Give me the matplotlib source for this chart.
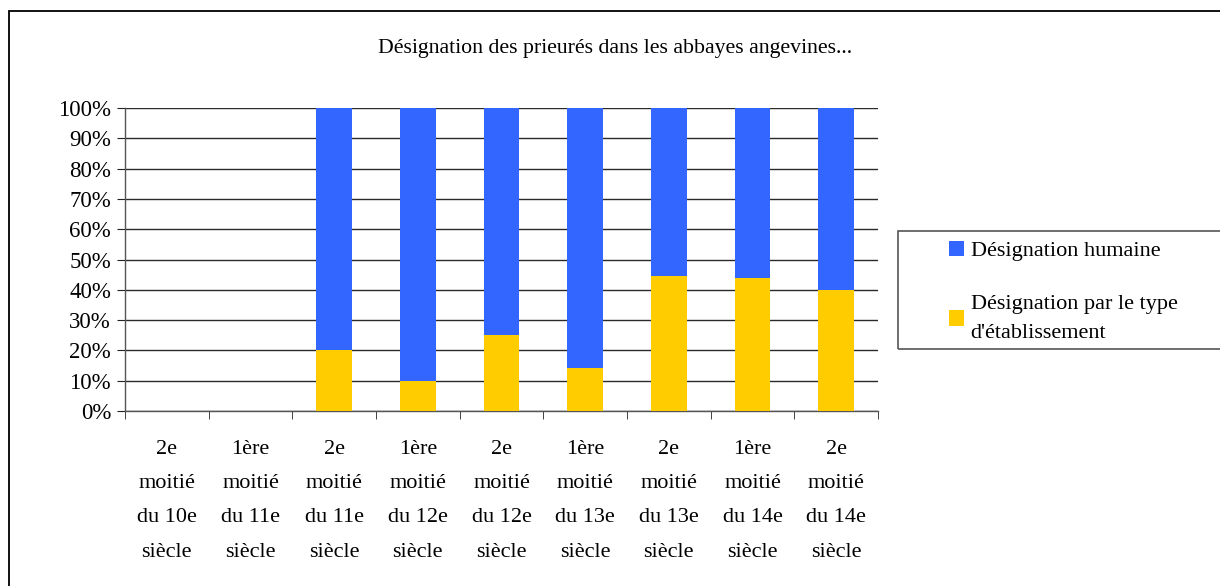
import matplotlib
matplotlib.use("Agg")
import matplotlib.pyplot as plt
from matplotlib.patches import Rectangle, Patch
from matplotlib.ticker import FixedLocator, PercentFormatter
import numpy as np

plt.rcParams['font.family'] = ['Liberation Serif', 'DejaVu Serif']

categories = [
    "2e\nmoitié\ndu 10e\nsiècle",
    "1ère\nmoitié\ndu 11e\nsiècle",
    "2e\nmoitié\ndu 11e\nsiècle",
    "1ère\nmoitié\ndu 12e\nsiècle",
    "2e\nmoitié\ndu 12e\nsiècle",
    "1ère\nmoitié\ndu 13e\nsiècle",
    "2e\nmoitié\ndu 13e\nsiècle",
    "1ère\nmoitié\ndu 14e\nsiècle",
    "2e\nmoitié\ndu 14e\nsiècle",
]
# share (%) of priories named after the type of establishment
type_share = [0, 0, 20.0, 10.0, 25.0, 14.3, 44.4, 43.75, 40.0]
# share (%) of priories named after a person
human_share = [0, 0, 80.0, 90.0, 75.0, 85.7, 55.6, 56.25, 60.0]

title = "Désignation des prieurés dans les abbayes angevines..."
label_human = "Désignation humaine"
label_type = "Désignation par le type\nd'établissement"

blue = "#3366FF"
yellow = "#FFCC00"

W, H = 1220, 586
fig = plt.figure(figsize=(W / 100, H / 100), dpi=100)

# outer frame of the chart area (only its top and left edges fall inside)
fig.patches.append(Rectangle((9 / W, -0.2), 1.2, 1.2 - 11 / H, transform=fig.transFigure,
                             fill=False, edgecolor="black", linewidth=1.3))

ax = fig.add_axes([125 / W, 1 - 411 / H, (878 - 125) / W, (411 - 108) / H])

x = np.arange(len(categories))
width = 0.43
ax.bar(x, type_share, width, color=yellow, zorder=3)
ax.bar(x, human_share, width, bottom=type_share, color=blue, zorder=3)

ax.set_xlim(-0.5, len(categories) - 0.5)
ax.set_ylim(0, 100)
ax.set_yticks(np.arange(0, 101, 10))
ax.yaxis.set_major_formatter(PercentFormatter(decimals=0))
ax.yaxis.grid(True, color="#2a2a2a", linewidth=1.0, zorder=0)

ax.set_xticks(x)
ax.set_xticklabels(categories, linespacing=2.08, fontsize=16)
ax.tick_params(axis="x", which="major", length=0, pad=21)
ax.xaxis.set_minor_locator(FixedLocator(np.arange(-0.5, len(categories), 1.0)))
ax.tick_params(axis="x", which="minor", length=6, color="#222222", direction="out")
ax.tick_params(axis="y", length=6, color="#222222", labelsize=16.5, pad=4)

for side in ("top", "right"):
    ax.spines[side].set_visible(False)
for side in ("left", "bottom"):
    ax.spines[side].set_color("#555555")
    ax.spines[side].set_linewidth(1.0)

fig.text(615 / W, 1 - 49 / H, title, ha="center", va="center", fontsize=15.7)

# legend frame
fig.patches.append(Rectangle((898 / W, 1 - 349 / H), 0.5, (349 - 231) / H,
                             transform=fig.transFigure, fill=False,
                             edgecolor="#555555", linewidth=1.2))
handles = [Patch(facecolor=blue, label=label_human),
           Patch(facecolor=yellow, label=label_type)]
leg = fig.legend(handles=handles, loc="upper left",
                 bbox_to_anchor=(931 / W, 1 - 223 / H), frameon=False,
                 fontsize=16, handlelength=0.68, handleheight=0.68,
                 handletextpad=0.3, labelspacing=1.5, borderpad=0.3)
for t in leg.get_texts():
    t.set_linespacing(1.75)

fig.savefig("out.png", dpi=100, facecolor="white")
